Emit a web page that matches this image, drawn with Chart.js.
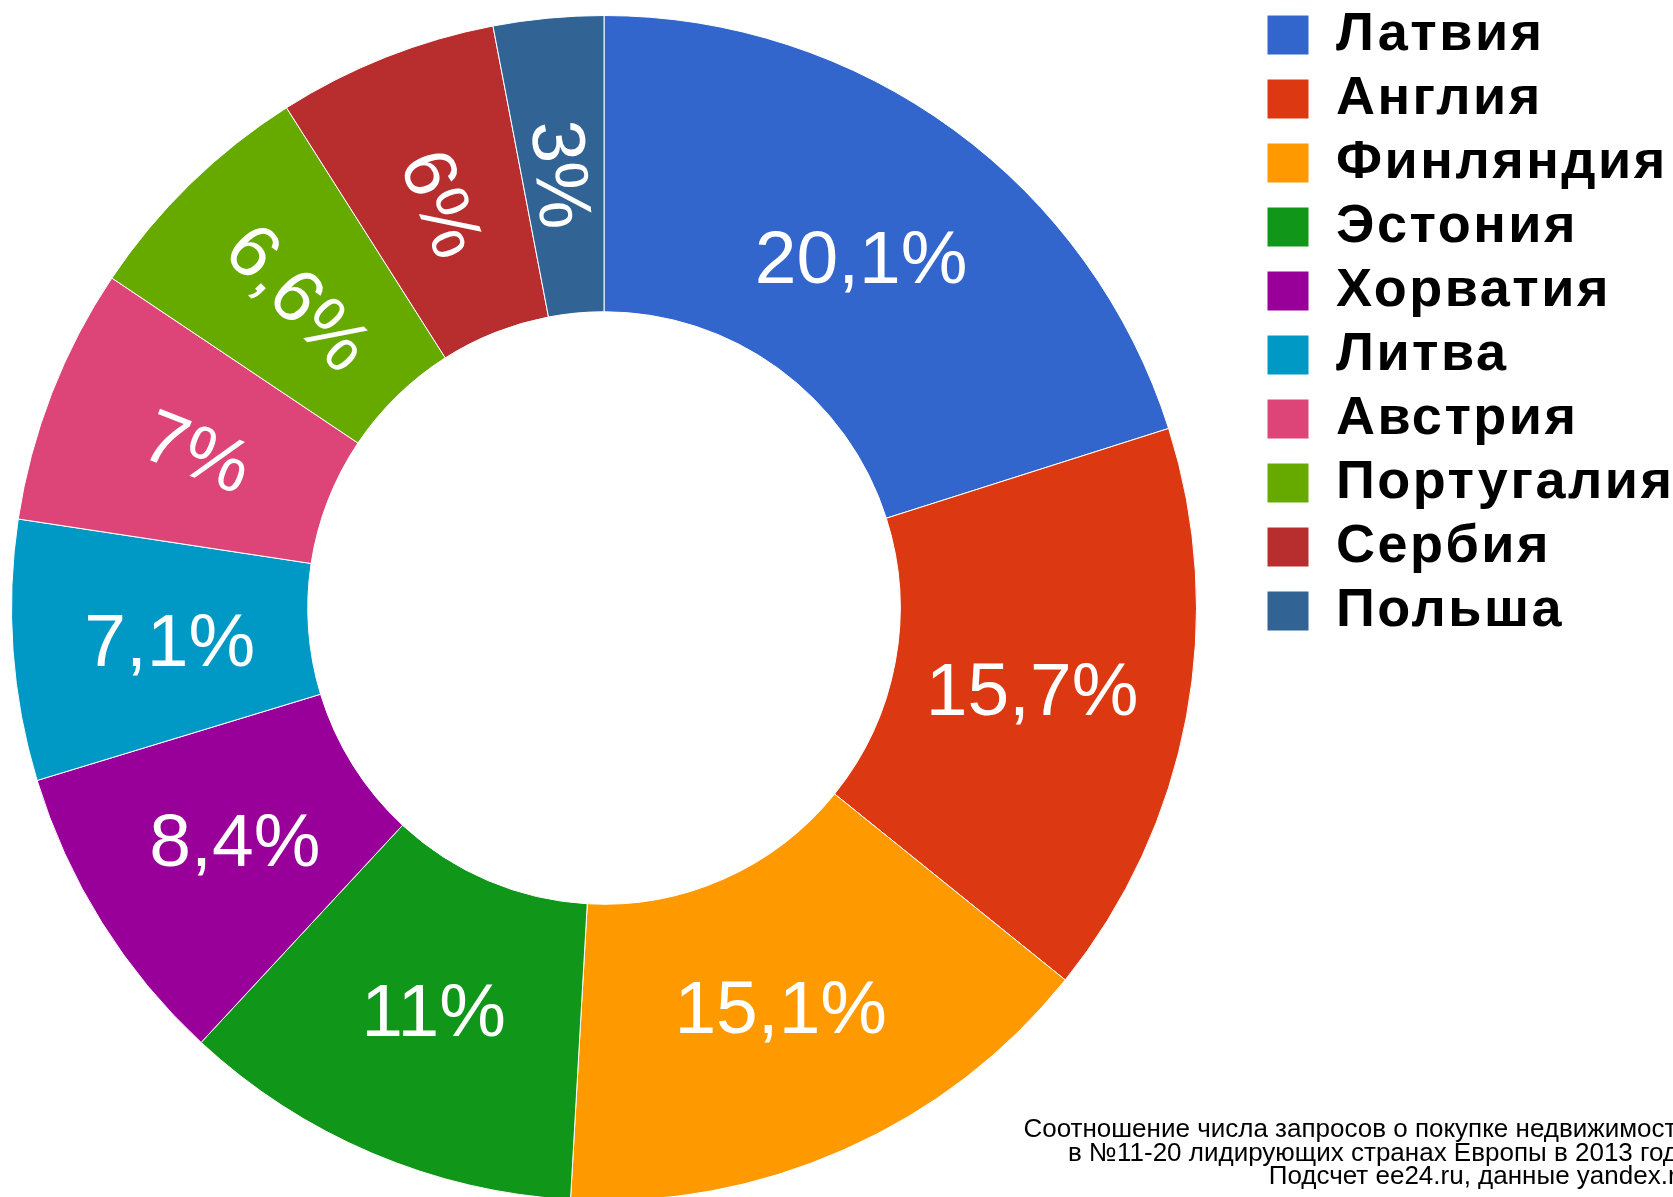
<!DOCTYPE html>
<html lang="ru">
<head>
<meta charset="utf-8">
<title>Запросы о покупке недвижимости, 2013</title>
<script src="https://cdn.jsdelivr.net/npm/chart.js@4/dist/chart.umd.min.js"></script>
<style>
  html, body { margin: 0; padding: 0; background: #fff; overflow: hidden; }
  #wrap { position: relative; width: 1673px; height: 1197px; }
  #note {
    position: absolute; right: -18px; top: 1117px;
    font-family: "Liberation Sans", Arial, sans-serif; font-size: 26px; line-height: 23.5px;
    text-align: right; color: #000; white-space: nowrap;
  }
</style>
</head>
<body>
<div id="wrap">
  <canvas id="myChart"></canvas>
  <div id="note"></div>
</div>
<script>
// Countries and their share of requests (%)
const countries = ['Латвия', 'Англия', 'Финляндия', 'Эстония', 'Хорватия', 'Литва', 'Австрия', 'Португалия', 'Сербия', 'Польша'];
const shares = [20.1, 15.7, 15.1, 11, 8.4, 7.1, 7, 6.6, 6, 3];
const sliceColors = ['#3366cc', '#dc3912', '#ff9900', '#109618', '#990099', '#0099c6', '#dd4477', '#66aa00', '#b82e2e', '#316395'];

// Source note (bottom right)
const noteLines = [
    'Соотношение числа запросов о покупке недвижимости',
    'в №11-20 лидирующих странах Европы в 2013 году',
    'Подсчет ee24.ru, данные yandex.ru'
];

// format 20.1 -> "20,1%"
function formatShare(v) {
    return String(v).replace('.', ',') + '%';
}

// Put the donut and the legend where they sit in the picture
const placement = {
    id: 'placement',
    beforeLayout(chart) {
        chart.ctx.letterSpacing = '2.5px'; // legend text is a bit spaced out
    },
    afterLayout(chart) {
        const size = 1186;
        const area = chart.chartArea;
        area.left = 11;
        area.top = 15;
        area.right = 11 + size;
        area.bottom = 15 + size;
        area.width = size;
        area.height = size;

        const lg = chart.legend;
        lg.left = 1257;
        lg.right = lg.left + lg.width;
        lg.top = -2;
        lg.bottom = lg.top + lg.height;
    }
};

// Percent labels inside the slices, small slices turned along the radius
const sliceLabels = {
    id: 'sliceLabels',
    afterDatasetsDraw(chart) {
        const ctx = chart.ctx;
        const arcs = chart.getDatasetMeta(0).data;
        const fontSize = 75;
        ctx.save();
        ctx.letterSpacing = '0px';
        ctx.font = fontSize + 'px "Liberation Sans", Arial, sans-serif';
        ctx.fillStyle = '#ffffff';
        ctx.textAlign = 'center';
        ctx.textBaseline = 'alphabetic';
        arcs.forEach((arc, i) => {
            const p = arc.getProps(['x', 'y', 'startAngle', 'endAngle', 'innerRadius', 'outerRadius'], true);
            const mid = (p.startAngle + p.endAngle) / 2;
            const r = p.innerRadius + (p.outerRadius - p.innerRadius) * 0.47;
            ctx.save();
            ctx.translate(p.x + Math.cos(mid) * r, p.y + Math.sin(mid) * r);
            if (shares[i] <= 7) {
                ctx.rotate(mid + Math.PI);
            }
            ctx.fillText(formatShare(shares[i]), 0, fontSize * 0.358);
            ctx.restore();
        });
        ctx.restore();
    }
};

document.addEventListener('DOMContentLoaded', function() {
    document.getElementById('note').innerHTML = noteLines.join('<br>');

    const ctx = document.getElementById('myChart').getContext('2d');
    new Chart(ctx, {
        type: 'doughnut',
        data: {
            labels: countries,
            datasets: [{
                data: shares,
                backgroundColor: sliceColors,
                borderColor: '#ffffff',
                borderWidth: 1
            }]
        },
        options: {
            responsive: true,
            maintainAspectRatio: false,
            animation: false,
            events: [],
            cutout: '50%',
            plugins: {
                tooltip: { enabled: false },
                legend: {
                    position: 'right',
                    align: 'start',
                    labels: {
                        color: '#000000',
                        boxWidth: 42,
                        boxHeight: 40,
                        padding: 10,
                        font: { family: '"Liberation Sans", Arial, sans-serif', size: 54, weight: 'bold' }
                    }
                }
            }
        },
        plugins: [placement, sliceLabels]
    });
});
</script>
</body>
</html>
